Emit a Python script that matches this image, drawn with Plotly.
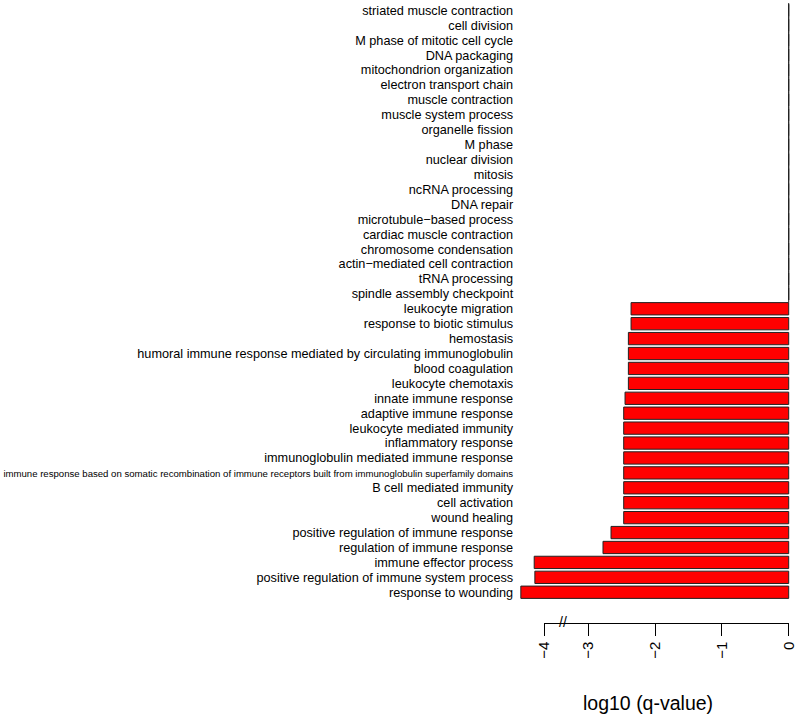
import plotly.graph_objects as go

# GO terms, top to bottom
terms = [
    "striated muscle contraction", "cell division", "M phase of mitotic cell cycle",
    "DNA packaging", "mitochondrion organization", "electron transport chain",
    "muscle contraction", "muscle system process", "organelle fission", "M phase",
    "nuclear division", "mitosis", "ncRNA processing", "DNA repair",
    "microtubule\u2212based process", "cardiac muscle contraction",
    "chromosome condensation", "actin\u2212mediated cell contraction",
    "tRNA processing", "spindle assembly checkpoint",
    "leukocyte migration", "response to biotic stimulus", "hemostasis",
    "humoral immune response mediated by circulating immunoglobulin",
    "blood coagulation", "leukocyte chemotaxis", "innate immune response",
    "adaptive immune response", "leukocyte mediated immunity",
    "inflammatory response", "immunoglobulin mediated immune response",
    "immune response based on somatic recombination of immune receptors built from immunoglobulin superfamily domains",
    "B cell mediated immunity", "cell activation", "wound healing",
    "positive regulation of immune response", "regulation of immune response",
    "immune effector process", "positive regulation of immune system process",
    "response to wounding",
]

# log10(q-value) as drawn on the (broken) axis
log10_q = [
    0, 0, 0, 0, 0, 0, 0, 0, 0, 0,
    0, 0, 0, 0, 0, 0, 0, 0, 0, 0,
    -2.36, -2.36, -2.40, -2.40, -2.40, -2.40, -2.45, -2.47, -2.47, -2.47,
    -2.47, -2.47, -2.47, -2.47, -2.47, -2.66, -2.78, -3.81, -3.80, -4.01,
]

# axis ticks (the "-4" tick sits after the axis break)
tick_vals = [-3.66, -3, -2, -1, 0]
tick_text = ["\u22124", "\u22123", "\u22122", "\u22121", "0"]

LONG = 70
tick_labels = [
    (f"<span style='font-size:9.6px'>{t}</span>" if len(t) > LONG else t)
    for t in terms
]

FONT = "Liberation Sans, Arial, sans-serif"
W, H = 800, 718

fig = go.Figure()
fig.add_trace(go.Bar(
    x=log10_q, y=terms, orientation="h", width=0.825,
    marker=dict(color="#FF0000", line=dict(color="#222222", width=1)),
    hoverinfo="x+y", showlegend=False,
))
zero_terms = [t for t, v in zip(terms, log10_q) if v == 0]
zero_vals = [v for v in log10_q if v == 0]
fig.add_trace(go.Scatter(
    x=zero_vals, y=zero_terms, mode="markers",
    marker=dict(symbol="line-ns", size=12.3,
                line=dict(color="#222222", width=1)),
    hoverinfo="skip", showlegend=False,
))
# invisible trace carrying the drawn axis
fig.add_trace(go.Scatter(
    x=tick_vals, y=[terms[0]] * len(tick_vals), xaxis="x2", yaxis="y",
    mode="markers", marker=dict(opacity=0), hoverinfo="skip", showlegend=False,
))

px_per_unit = 66.8
zero_px = 788.7
x_lo, x_hi = -4.05, 0.05
n = len(terms)
fig.update_layout(
    width=W, height=H,
    margin=dict(l=0, r=0, t=0, b=0, autoexpand=False),
    paper_bgcolor="white", plot_bgcolor="rgba(0,0,0,0)",
    font=dict(family=FONT, color="#000000"),
    xaxis=dict(
        visible=False, range=[x_lo, x_hi], automargin=False,
        domain=[(zero_px + x_lo * px_per_unit) / W, (zero_px + x_hi * px_per_unit) / W],
    ),
    xaxis2=dict(
        range=[tick_vals[0], tick_vals[-1]], automargin=False,
        domain=[(zero_px + tick_vals[0] * px_per_unit) / W, zero_px / W],
        anchor="free", position=(H - 622.7) / H,
        showline=True, linecolor="#000000", linewidth=1,
        ticks="outside", ticklen=12, tickwidth=1, tickcolor="#000000",
        tickmode="array", tickvals=tick_vals, ticktext=tick_text,
        tickangle=-90, tickfont=dict(size=15, family=FONT),
        showgrid=False, zeroline=False,
    ),
    yaxis=dict(
        domain=[(H - 599.7) / H, (H - 2.9) / H], automargin=False,
        range=[n - 0.5, -0.5], showgrid=False, zeroline=False, showline=False,
        ticks="", tickmode="array", tickvals=terms, ticktext=tick_labels,
        tickfont=dict(size=12.7, family=FONT, color="#000000"),
        ticklabelstandoff=4,
    ),
    bargap=0.175,
    annotations=[
        dict(text="log10 (q-value)", x=648 / W, y=(H - 703) / H,
             xref="paper", yref="paper", showarrow=False,
             font=dict(size=19.5, family=FONT), xanchor="center", yanchor="middle"),
        dict(text="//", x=-3.38, xref="x2", y=(H - 622) / H, yref="paper",
             showarrow=False, font=dict(size=14, family=FONT),
             xanchor="center", yanchor="middle"),
    ],
)

fig.write_html(
    "out.html",
    config={"displayModeBar": False},
    post_script="document.body.style.margin='0';",
)
